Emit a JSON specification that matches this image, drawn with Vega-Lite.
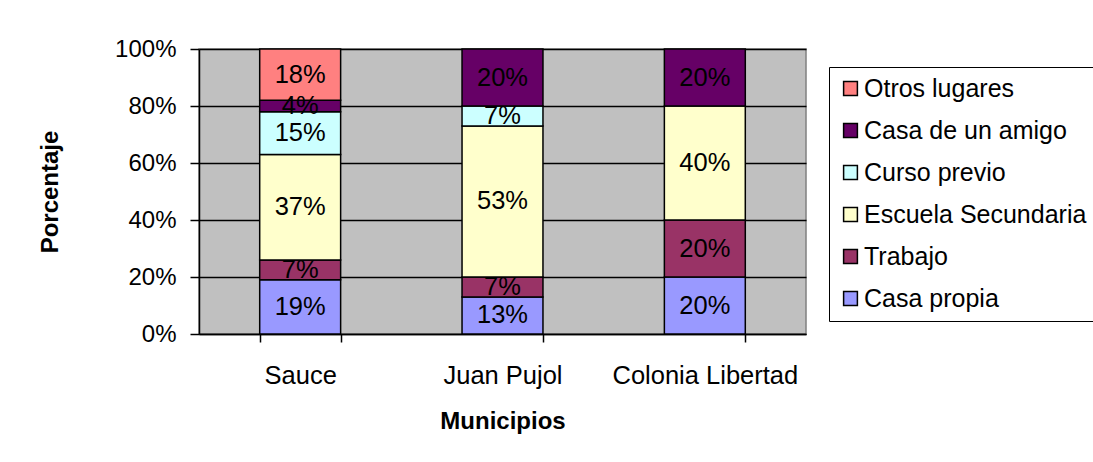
{
  "$schema": "https://vega.github.io/schema/vega-lite/v6.json",
  "autosize": {"type": "none"},
  "padding": {"left": 199, "top": 49, "right": 287, "bottom": 128},
  "width": 607,
  "height": 285,
  "background": "white",
  "config": {
    "font": "Liberation Sans",
    "view": {"fill": "#C0C0C0", "stroke": "#808080", "strokeWidth": 1.5}
  },
  "data": {
    "values": [
      {"municipio": "Sauce", "lugar": "Casa propia", "valor": 19, "orden": 1},
      {"municipio": "Sauce", "lugar": "Trabajo", "valor": 7, "orden": 2},
      {"municipio": "Sauce", "lugar": "Escuela Secundaria", "valor": 37, "orden": 3},
      {"municipio": "Sauce", "lugar": "Curso previo", "valor": 15, "orden": 4},
      {"municipio": "Sauce", "lugar": "Casa de un amigo", "valor": 4, "orden": 5},
      {"municipio": "Sauce", "lugar": "Otros lugares", "valor": 18, "orden": 6},
      {"municipio": "Juan Pujol", "lugar": "Casa propia", "valor": 13, "orden": 1},
      {"municipio": "Juan Pujol", "lugar": "Trabajo", "valor": 7, "orden": 2},
      {"municipio": "Juan Pujol", "lugar": "Escuela Secundaria", "valor": 53, "orden": 3},
      {"municipio": "Juan Pujol", "lugar": "Curso previo", "valor": 7, "orden": 4},
      {"municipio": "Juan Pujol", "lugar": "Casa de un amigo", "valor": 20, "orden": 5},
      {"municipio": "Colonia Libertad", "lugar": "Casa propia", "valor": 20, "orden": 1},
      {"municipio": "Colonia Libertad", "lugar": "Trabajo", "valor": 20, "orden": 2},
      {"municipio": "Colonia Libertad", "lugar": "Escuela Secundaria", "valor": 40, "orden": 3},
      {"municipio": "Colonia Libertad", "lugar": "Casa de un amigo", "valor": 20, "orden": 5}
    ]
  },
  "transform": [
    {"stack": "valor", "groupby": ["municipio"], "sort": [{"field": "orden", "order": "ascending"}], "as": ["v0", "v1"]},
    {"calculate": "(datum.v0 + datum.v1) / 2", "as": "mid"},
    {"calculate": "datum.valor + '%'", "as": "etiqueta"}
  ],
  "layer": [
    {
      "mark": {"type": "bar", "stroke": "black", "strokeWidth": 1.5},
      "encoding": {
        "x": {
          "field": "municipio", "type": "nominal",
          "sort": ["Sauce", "Juan Pujol", "Colonia Libertad"],
          "scale": {"paddingInner": 0.6, "paddingOuter": 0.3},
          "axis": {
            "title": "Municipios", "titleFontSize": 24, "titleFontWeight": "bold", "titleColor": "black",
            "titlePadding": 21,
            "labelFontSize": 25.5, "labelColor": "black", "labelAngle": 0, "labelPadding": 21, "labelLimit": 400,
            "tickBand": "extent", "tickSize": 8, "tickColor": "black", "tickWidth": 1.5,
            "domainColor": "black", "domainWidth": 1.5, "grid": false
          }
        },
        "y": {
          "field": "v0", "type": "quantitative",
          "scale": {"domain": [0, 100]},
          "axis": {
            "title": "Porcentaje", "titleFontSize": 24, "titleFontWeight": "bold", "titleColor": "black",
            "titlePadding": 52,
            "values": [0, 20, 40, 60, 80, 100],
            "labelExpr": "datum.value + '%'",
            "labelFontSize": 24, "labelColor": "black", "labelPadding": 14,
            "tickSize": 9, "tickColor": "black", "tickWidth": 1.5,
            "domainColor": "black", "domainWidth": 1.5,
            "grid": true, "gridColor": "black", "gridWidth": 1.5, "gridOpacity": 1
          }
        },
        "y2": {"field": "v1"},
        "color": {
          "field": "lugar", "type": "nominal",
          "sort": ["Otros lugares", "Casa de un amigo", "Curso previo", "Escuela Secundaria", "Trabajo", "Casa propia"],
          "scale": {
            "domain": ["Otros lugares", "Casa de un amigo", "Curso previo", "Escuela Secundaria", "Trabajo", "Casa propia"],
            "range": ["#FF8080", "#660066", "#CCFFFF", "#FFFFCC", "#993366", "#9999FF"]
          },
          "legend": {
            "title": null,
            "orient": "none", "legendX": 630, "legendY": 18,
            "strokeColor": "black", "fillColor": "white", "padding": 9,
            "symbolType": "square", "symbolSize": 190, "symbolStrokeColor": "black", "symbolStrokeWidth": 1.5,
            "symbolOpacity": 1,
            "labelFontSize": 25, "labelColor": "black", "labelOffset": 1, "labelLimit": 400,
            "rowPadding": 16
          }
        }
      }
    },
    {
      "mark": {"type": "text", "fontSize": 25.5, "color": "black", "align": "center", "baseline": "middle"},
      "encoding": {
        "x": {"field": "municipio", "type": "nominal", "sort": ["Sauce", "Juan Pujol", "Colonia Libertad"]},
        "y": {"field": "mid", "type": "quantitative"},
        "text": {"field": "etiqueta", "type": "nominal"}
      }
    }
  ]
}
